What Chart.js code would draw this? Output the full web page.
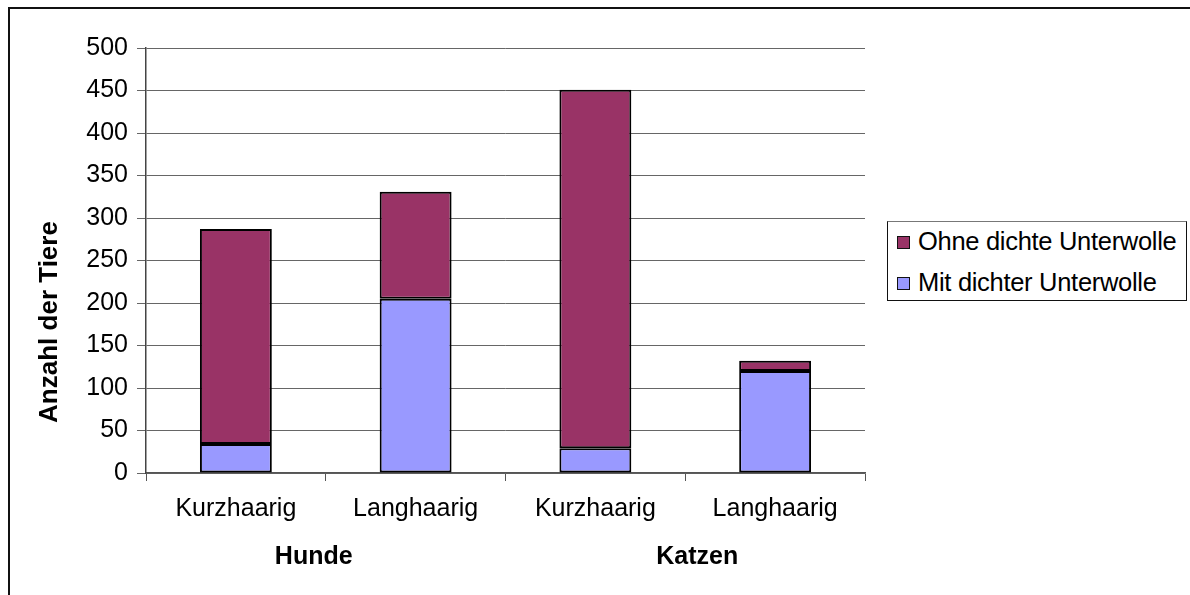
<!DOCTYPE html>
<html>
<head>
<meta charset="utf-8">
<script src="https://cdn.jsdelivr.net/npm/chart.js@4"></script>
<style>
    body { margin: 0; background: #fff; }
    #wrap { position: relative; width: 1190px; height: 595px; overflow: hidden; }
    #frame { position: absolute; left: 8px; top: 7px; width: 1300px; height: 700px;
             border-left: 2px solid #111; border-top: 2px solid #111; }
    #legend { position: absolute; left: 887px; top: 221px; width: 298px; height: 78px;
              border: 1px solid #111; border-top-color: #777; background: #fff;
              font-family: "Liberation Sans", Arial, sans-serif; font-size: 25.5px; color: #000; }
    .item { position: absolute; left: 9px; height: 30px; line-height: 30px; white-space: nowrap; letter-spacing: -0.3px; }
    .box { display: inline-block; width: 11px; height: 11px; border: 1.5px solid #111; margin-right: 8px; vertical-align: 1px; }
    canvas { position: absolute; left: 0; top: 0; }
</style>
</head>
<body>
<div id="wrap">
    <div id="frame"></div>
    <canvas id="chart" width="1190" height="595"></canvas>
    <div id="legend"></div>
</div>
<script>
// Chart data
const categories = ['Kurzhaarig', 'Langhaarig', 'Kurzhaarig', 'Langhaarig'];
const groups = ['Hunde', 'Katzen'];
const seriesNames = ['Mit dichter Unterwolle', 'Ohne dichte Unterwolle'];
const mitValues = [34, 205, 29, 120];
const ohneValues = [253, 126, 422, 12];
const seriesColors = ['#9999FF', '#993366'];
const yMax = 500;
const yStep = 50;

const FONT = '"Liberation Sans", Arial, sans-serif';

// Axis title + group labels under the categories
const extraLabels = {
    id: 'extraLabels',
    afterDraw(chart) {
        const ctx = chart.ctx;
        const x = chart.scales.x;
        ctx.save();
        ctx.fillStyle = '#000';
        ctx.font = 'bold 25px ' + FONT;
        ctx.textAlign = 'center';
        ctx.textBaseline = 'middle';
        groups.forEach((g, i) => {
            // Excel pushes the group labels a bit apart
            const cx = (x.getPixelForValue(i * 2) + x.getPixelForValue(i * 2 + 1)) / 2 + (i === 0 ? -12 : 12);
            ctx.fillText(g, cx, 557);
        });
        ctx.font = 'bold 26px ' + FONT;
        ctx.translate(50, 322);
        ctx.rotate(-Math.PI / 2);
        ctx.fillText('Anzahl der Tiere', 0, 0);
        ctx.restore();
    }
};

const barStyle = {
    borderColor: '#000',
    borderWidth: 2,
    borderSkipped: false,
    categoryPercentage: 0.8,
    barPercentage: 0.5
};

const ctx = document.getElementById('chart').getContext('2d');
const chart = new Chart(ctx, {
    type: 'bar',
    data: {
        labels: categories,
        datasets: [
            Object.assign({ label: seriesNames[0], data: mitValues, backgroundColor: seriesColors[0] }, barStyle),
            Object.assign({ label: seriesNames[1], data: ohneValues, backgroundColor: seriesColors[1] }, barStyle)
        ]
    },
    options: {
        responsive: false,
        animation: false,
        layout: { padding: { top: 48, right: 325, left: 0, bottom: 0 } },
        plugins: {
            legend: { display: false },
            tooltip: { enabled: false }
        },
        scales: {
            x: {
                stacked: true,
                afterFit: function(scale) { scale.height = 122; },
                grid: {
                    offset: true,
                    drawOnChartArea: false,
                    color: '#555',
                    tickLength: 8
                },
                border: { color: '#555', width: 1.5 },
                ticks: {
                    color: '#000',
                    font: { family: FONT, size: 25 },
                    padding: 13,
                    maxRotation: 0
                }
            },
            y: {
                stacked: true,
                min: 0,
                max: yMax,
                afterFit: function(scale) { scale.width = 146; },
                grid: { color: '#666', tickLength: 9 },
                border: { color: '#444', width: 1.5 },
                ticks: {
                    stepSize: yStep,
                    color: '#000',
                    font: { family: FONT, size: 25 },
                    padding: 9
                }
            }
        }
    },
    plugins: [extraLabels]
});

// Legend (reversed order, like the stack)
const legendDiv = document.getElementById('legend');
const order = [1, 0];
order.forEach((idx, row) => {
    const item = document.createElement('div');
    item.className = 'item';
    item.style.top = (4 + row * 41) + 'px';
    item.innerHTML = '<span class="box" style="background:' + seriesColors[idx] + '"></span>' + seriesNames[idx];
    legendDiv.appendChild(item);
});
</script>
</body>
</html>
